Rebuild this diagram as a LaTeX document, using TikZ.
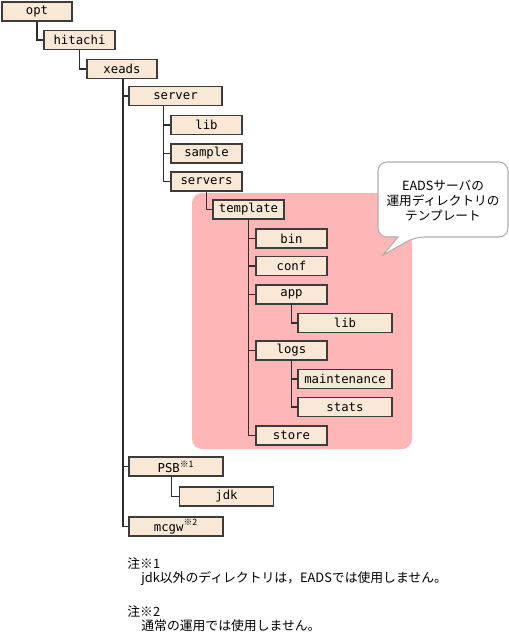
\documentclass[tikz,border=0pt]{standalone}
\usepackage{fontspec}
\usepackage{xcolor}
\usepackage{tikz}
\usetikzlibrary{calc}
\setmonofont{DejaVu Sans Mono}
\newfontfamily\jpfont{Noto Sans CJK JP}
\definecolor{BoxFill}{RGB}{250, 232, 214}
\definecolor{BoxLine}{RGB}{60, 60, 60}
\definecolor{TreeLine}{RGB}{45, 45, 45}
\definecolor{TemplatePink}{RGB}{255, 182, 182}
\definecolor{CalloutGray}{RGB}{175, 175, 175}
\tikzset{
  dirbox/.style={rectangle, draw=BoxLine, fill=BoxFill, line width=0.8pt,
    minimum width=1.42cm, minimum height=0.38cm, inner sep=0pt,
    font=\fontsize{7}{8}\ttfamily, text=black},
  dirwide/.style={dirbox, minimum width=1.88cm},
  branch/.style={draw=TreeLine, line width=0.6pt},
  note/.style={font=\fontsize{7.3}{8.5}\jpfont, anchor=west, inner sep=0pt},
}
\newcommand{\supmark}[1]{\textsuperscript{\jpfont ※#1}}

\begin{document}
\begin{tikzpicture}[x=0.02cm, y=-0.02cm]
  \useasboundingbox (0,0) rectangle (509,633);
  % template area and callout
  \fill[TemplatePink, rounded corners=0.2cm] (192,193) rectangle (412,449);
  \draw[CalloutGray, fill=white, line width=0.6pt, rounded corners=0.18cm]
    (398,237) -- (378,237) -- (378,162) -- (508,162) -- (508,237) -- (415,237)
    [sharp corners] -- (383,255) -- cycle;
  \node[font=\fontsize{7.2}{8.6}\jpfont, align=center] (callout) at (443,201)
    {EADSサーバの\\運用ディレクトリの\\テンプレート};
  % directory boxes
  \node[dirbox, minimum width=1.40cm] (opt)     at (37,11.5)    {opt};
  \node[dirbox]                       (hitachi) at (79.5,40)    {hitachi};
  \node[dirbox, minimum width=1.40cm] (xeads)   at (122,69)     {xeads};
  \node[dirwide, minimum width=1.86cm](server)  at (175.5,96)   {server};
  \node[dirbox] (lib)      at (206.5,125)   {lib};
  \node[dirbox] (sample)   at (206.5,153.5) {sample};
  \node[dirbox] (servers)  at (206.5,181.5) {servers};
  \node[dirbox] (template) at (248.5,209.5) {template};
  \node[dirbox] (bin)      at (291.5,238.5) {bin};
  \node[dirbox] (conf)     at (291.5,266)   {conf};
  \node[dirbox] (app)      at (291.5,294.5) {app};
  \node[dirwide] (applib)  at (345,323)     {lib};
  \node[dirbox] (logs)     at (291.5,350.5) {logs};
  \node[dirwide] (maint)   at (345,379)     {maintenance};
  \node[dirwide] (stats)   at (345,407)     {stats};
  \node[dirbox] (store)    at (291.5,435.5) {store};
  \node[dirwide] (psb)     at (176,466.5)   {PSB\supmark{1}};
  \node[dirwide] (jdk)     at (226.5,496.5) {jdk};
  \node[dirwide] (mcgw)    at (176,526.5)   {mcgw\supmark{2}};
  % tree branches
  \draw[branch] (opt.south) |- (hitachi.west);
  \draw[branch] (hitachi.south) |- (xeads.west);
  \coordinate (xeadsfork) at ($(xeads.south)+(1,0)$);
  \foreach \dir in {server, psb, mcgw}
    \draw[branch] (xeadsfork) |- (\dir.west);
  \coordinate (serverfork) at ($(server.south west)+(35,0)$);
  \foreach \dir in {lib, sample, servers}
    \draw[branch] (serverfork) |- (\dir.west);
  \draw[branch] (servers.south) |- (template.west);
  \foreach \dir in {bin, conf, app, logs, store}
    \draw[branch] (template.south) |- (\dir.west);
  \draw[branch] (app.south) |- (applib.west);
  \foreach \dir in {maint, stats}
    \draw[branch] (logs.south) |- (\dir.west);
  \coordinate (psbfork) at ($(psb.south west)+(43,0)$);
  \draw[branch] (psbfork) |- (jdk.west);
  % notes
  \node[note] (note1)     at (127,564) {注※1};
  \node[note] (note1text) at (141,579) {jdk以外のディレクトリは，EADSでは使用しません。};
  \node[note] (note2)     at (127,612) {注※2};
  \node[note] (note2text) at (141,626) {通常の運用では使用しません。};
\end{tikzpicture}
\end{document}
